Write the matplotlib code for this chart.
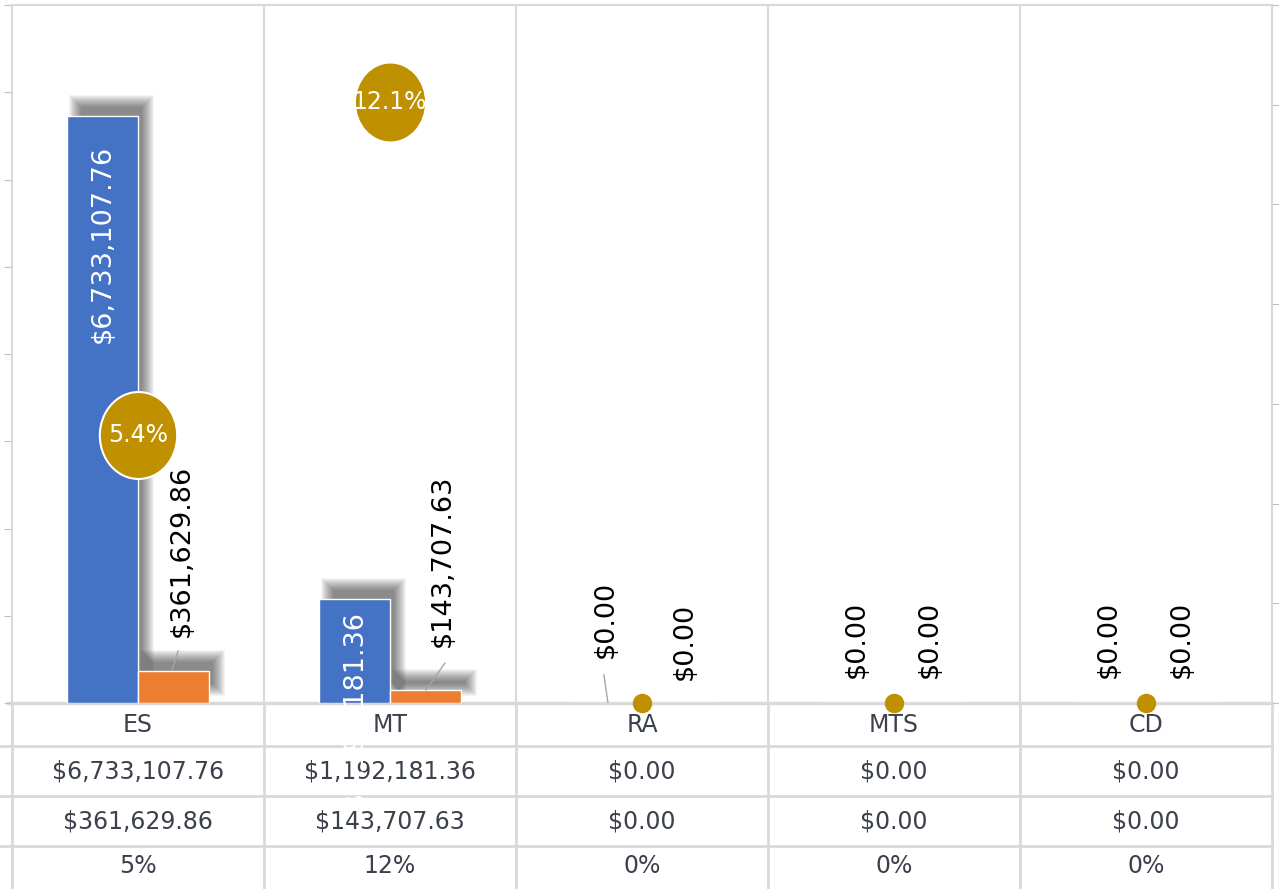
import numpy as np
import matplotlib.pyplot as plt
from matplotlib.path import Path
from matplotlib.transforms import Affine2D
from matplotlib.patches import Rectangle

categories = ['ES', 'MT', 'RA', 'MTS', 'CD']
amount = [6733107.76, 1192181.36, 0.0, 0.0, 0.0]
commission = [361629.86, 143707.63, 0.0, 0.0, 0.0]
ratio = [0.0537, 0.12054, 0.0, 0.0, 0.0]

BLUE = '#4472C4'
ORANGE = '#ED7D31'
GOLD = '#BF9000'
GRID = '#D9D9D9'
TXT = '#3B404C'

W, H = 1279, 889
L, R, B, T = 12, 1272, 703, 5
fig = plt.figure(figsize=(W / 100, H / 100), dpi=100)
ax = fig.add_axes([L / W, 1 - B / H, (R - L) / W, (B - T) / H])
tax = fig.add_axes([L / W, 0, (R - L) / W, 1 - B / H])
ax2 = ax.twinx()
tax.set_zorder(0)
ax.set_zorder(1)
ax2.set_zorder(2)

ymax = 8e6
px_x = 5 / (R - L)          # data units per pixel
px_y = ymax / (B - T)

x = np.arange(len(categories))
w = 0.28

# soft shadow, offset up-right
def shadow(x0, width, height):
    dx, dy = 9 * px_x, 14 * px_y
    for e in range(7, -6, -1):
        ax.add_patch(Rectangle((x0 + dx - e * px_x, dy - e * px_y),
                               width + 2 * e * px_x, height + 2 * e * px_y,
                               fc='black', ec='none', alpha=0.045, zorder=2))

for i in range(len(categories)):
    if amount[i] > 0:
        shadow(x[i] - w, w, amount[i])
    if commission[i] > 0:
        shadow(x[i], w, commission[i])

ax.bar(x - w / 2, amount, w, color=BLUE, edgecolor='white', linewidth=1, zorder=3)
ax.bar(x + w / 2, commission, w, color=ORANGE, edgecolor='white', linewidth=1, zorder=3)

ax.set_xlim(-0.5, 4.5)
ax.set_ylim(0, ymax)
ax.set_yticks(np.arange(0, ymax + 1, 1e6))
ax.set_xticks([])
ax.tick_params(axis='y', direction='out', length=6, color='#BFBFBF', labelleft=False)
for s in ['top', 'left', 'right']:
    ax.spines[s].set_color(GRID)
    ax.spines[s].set_linewidth(1.5)
ax.spines['bottom'].set_color(GRID)
ax.spines['bottom'].set_linewidth(2.5)
for xv in np.arange(0.5, 4.5, 1):
    ax.axvline(xv, color=GRID, lw=1.5, zorder=1)

# data labels for amount series: (x offset, y, va, colour)
amount_lbl = [(-0.14, 6.40e6, 'top', 'white'),
              (-0.14, 1.067e6, 'top', 'white'),
              (-0.143, 0.516e6, 'bottom', 'black'),
              (-0.147, 0.287e6, 'bottom', 'black'),
              (-0.147, 0.287e6, 'bottom', 'black')]
comm_lbl = [(0.175, 0.756e6), (0.21, 0.642e6), (0.171, 0.264e6),
            (0.143, 0.287e6), (0.143, 0.287e6)]
leaders = [(0, (0.159, 0.135), (0.596e6, 0.378e6)),
           (1, (0.218, 0.143), (0.458e6, 0.149e6)),
           (2, (-0.151, -0.135), (0.321e6, 0.0))]

for i, v in enumerate(amount):
    dx, yy, va, col = amount_lbl[i]
    ax.text(x[i] + dx, yy, f'${v:,.2f}', rotation=90, ha='center', va=va,
            color=col, fontsize=19.5, zorder=6, clip_on=False)
for i, v in enumerate(commission):
    dx, yy = comm_lbl[i]
    ax.text(x[i] + dx, yy, f'${v:,.2f}', rotation=90, ha='center', va='bottom',
            color='black', fontsize=19.5, zorder=6)
for i, xs, ys in leaders:
    ax.plot([x[i] + xs[0], x[i] + xs[1]], ys, color='#A6A6A6', lw=1, zorder=4)

# ratio series on secondary axis
ax2.set_ylim(0, 0.1391)
ax2.set_yticks(np.arange(0, 0.141, 0.02))
ax2.tick_params(axis='y', direction='out', length=7, color='#BFBFBF', labelright=False)
for s in ax2.spines.values():
    s.set_visible(False)
ax2.plot(x, ratio, 'o', ms=13, color=GOLD, linestyle='none', clip_on=False, zorder=5)
ell = Path.unit_circle().transformed(Affine2D().scale(0.89, 1.0))
for i, p in enumerate(ratio):
    if p > 0:
        size = 62.6 if i == 0 else 57.6
        ax2.scatter([x[i]], [p], s=size ** 2, marker=ell, color=GOLD,
                    edgecolors='white', linewidths=1.5, zorder=6)
        ax2.text(x[i], p, f'{p * 100:.1f}%', ha='center', va='center',
                 color='white', fontsize=17, zorder=7)

# data table
tax.set_xlim(-0.5, 4.5)
tax.set_ylim(H - B, 0)
tax.axis('off')
left_ext = -0.5 - L * px_x
for yv in [43, 93, 143]:
    tax.plot([left_ext, 4.5], [yv, yv], color=GRID, lw=2, clip_on=False)
tax.plot([-0.5 - 4 * px_x, -0.5], [0, 0], color=GRID, lw=2.5, clip_on=False)
for xv in np.arange(-0.5, 4.6, 1):
    tax.plot([xv, xv], [0, H - B], color=GRID, lw=2, clip_on=False)

rows = [categories,
        [f'${v:,.2f}' for v in amount],
        [f'${v:,.2f}' for v in commission],
        [f'{p:.0%}' for p in ratio]]
row_y = [21.5, 68, 118, 163]
for r, yv in zip(rows, row_y):
    for i, s in enumerate(r):
        tax.text(x[i], yv, s, ha='center', va='center', color=TXT, fontsize=17)

fig.savefig('out.png', dpi=100)
